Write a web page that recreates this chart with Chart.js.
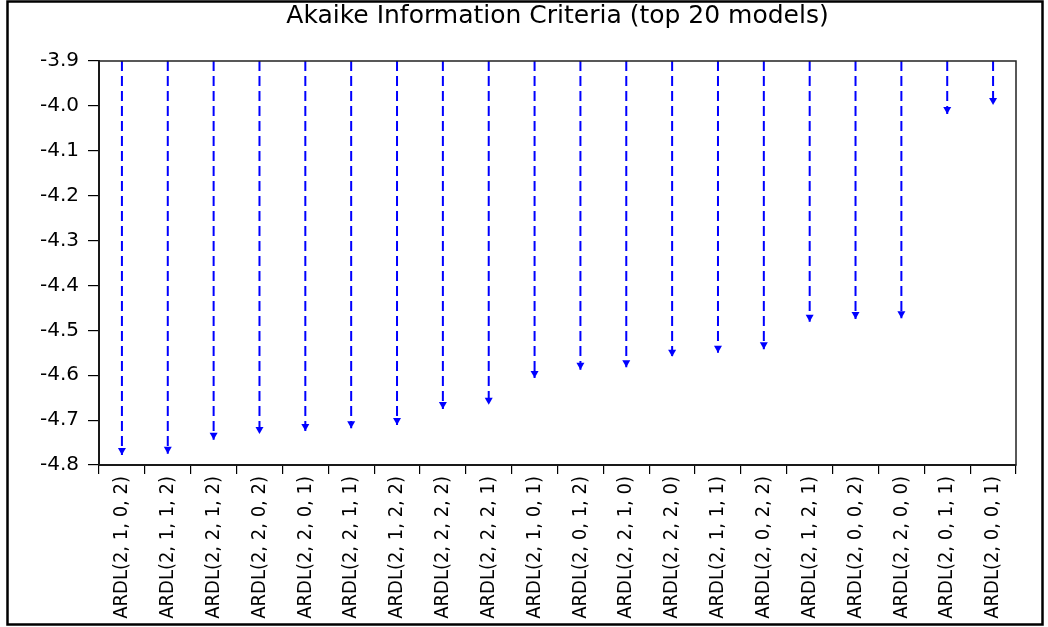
<!DOCTYPE html>
<html><head><meta charset="utf-8">
<script src="https://cdn.jsdelivr.net/npm/chart.js@4/dist/chart.umd.min.js"></script>
<style>html,body{margin:0;padding:0;background:#fff}#wrap{width:1048px;height:627px}</style>
</head><body><div id="wrap"><canvas id="c" width="1048" height="627"></canvas></div>
<script>
const titleText = 'Akaike Information Criteria (top 20 models)';
const models = [
  'ARDL(2, 1, 0, 2)','ARDL(2, 1, 1, 2)','ARDL(2, 2, 1, 2)','ARDL(2, 2, 0, 2)','ARDL(2, 2, 0, 1)',
  'ARDL(2, 2, 1, 1)','ARDL(2, 1, 2, 2)','ARDL(2, 2, 2, 2)','ARDL(2, 2, 2, 1)','ARDL(2, 1, 0, 1)',
  'ARDL(2, 0, 1, 2)','ARDL(2, 2, 1, 0)','ARDL(2, 2, 2, 0)','ARDL(2, 1, 1, 1)','ARDL(2, 0, 2, 2)',
  'ARDL(2, 1, 2, 1)','ARDL(2, 0, 0, 2)','ARDL(2, 2, 0, 0)','ARDL(2, 0, 1, 1)','ARDL(2, 0, 0, 1)'
];
const aic = [
  -4.778, -4.775, -4.744, -4.731, -4.724, -4.718, -4.711, -4.675, -4.666, -4.606,
  -4.588, -4.582, -4.559, -4.550, -4.542, -4.481, -4.475, -4.473, -4.018, -3.998
];
const yMax = -3.9;
const yMin = -4.8;
const yStep = 0.1;

// stems: from the top of the axis down to each value
const stemPoints = [];
models.forEach((m, i) => {
  stemPoints.push({x: m, y: yMax});
  stemPoints.push({x: m, y: aic[i]});
  stemPoints.push({x: m, y: null});
});

const frame = {
  id: 'frame',
  beforeDraw(chart) {
    const c = chart.ctx;
    c.save();
    c.fillStyle = '#fff';
    c.fillRect(0, 0, chart.width, chart.height);
    c.restore();
  },
  afterDraw(chart) {
    const c = chart.ctx, a = chart.chartArea;
    c.save();
    c.strokeStyle = '#000';
    c.lineWidth = 2.5;
    c.strokeRect(7.5, 1.5, 1035, 623);
    c.lineWidth = 1.5;
    c.strokeStyle = '#222';
    c.strokeRect(a.left, a.top, a.right - a.left, a.bottom - a.top);
    c.restore();
  }
};

const arrowheads = {
  id: 'arrowheads',
  afterDatasetsDraw(chart) {
    const meta = chart.getDatasetMeta(1);
    const c = chart.ctx;
    c.save();
    c.fillStyle = '#0000ff';
    meta.data.forEach(p => {
      const x = p.x, y = p.y;
      c.beginPath();
      c.moveTo(x, y);
      c.lineTo(x - 4, y - 7);
      c.lineTo(x + 4, y - 7);
      c.closePath();
      c.fill();
    });
    c.restore();
  }
};

new Chart(document.getElementById('c'), {
  type: 'line',
  data: {
    labels: models,
    datasets: [
      {
        data: stemPoints,
        borderColor: '#0000ff',
        borderWidth: 2,
        borderDash: [10, 5],
        pointRadius: 0,
        spanGaps: false,
        tension: 0
      },
      {
        data: aic,
        showLine: false,
        pointRadius: 0,
        borderColor: '#0000ff'
      }
    ]
  },
  options: {
    responsive: false,
    devicePixelRatio: 1,
    animation: false,
    layout: { padding: { left: 0, right: 32, top: 0, bottom: 0 } },
    plugins: {
      legend: { display: false },
      tooltip: { enabled: false },
      title: {
        display: true,
        text: titleText,
        fullSize: false,
        color: '#000',
        font: { family: 'DejaVu Sans', size: 25, weight: 'normal' },
        padding: { top: 1, bottom: 30 }
      }
    },
    scales: {
      x: {
        type: 'category',
        offset: true,
        grid: { offset: true, drawOnChartArea: false, drawTicks: true, tickLength: 9, color: '#000', lineWidth: 1.2 },
        border: { display: true, color: '#000', width: 2 },
        ticks: {
          color: '#000', minRotation: 90, maxRotation: 90, autoSkip: false, padding: 2,
          font: { family: "'DejaVu Sans Condensed', 'Liberation Sans', sans-serif", size: 20 }
        },
        afterFit(s) { s.height = 162; }
      },
      y: {
        min: yMin, max: yMax,
        grid: { drawOnChartArea: false, drawTicks: true, tickLength: 11, color: '#000', lineWidth: 1.2 },
        border: { display: true, color: '#000', width: 2 },
        ticks: {
          stepSize: yStep, color: '#000', padding: 9,
          font: { family: 'DejaVu Sans', size: 20 },
          callback: v => Number(v).toFixed(1)
        },
        afterFit(s) { s.width = 99; }
      }
    }
  },
  plugins: [frame, arrowheads]
});
</script>
</body></html>
